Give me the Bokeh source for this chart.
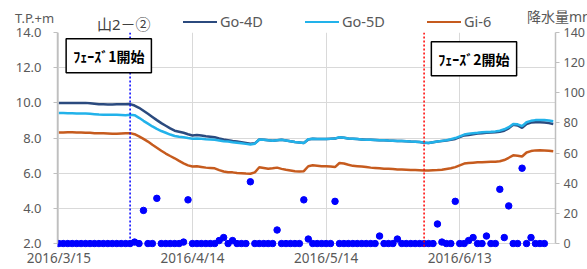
import datetime as dt
from bokeh.plotting import figure
from bokeh.layouts import column
from bokeh.models import (Range1d, LinearAxis, Label, Span, Div,
                          FixedTicker, PrintfTickFormatter)
from bokeh.embed import file_html
from bokeh.resources import INLINE

# ---------------- data ----------------
start_date = "2016/3/15"
phase1_date = "2016/3/31"
phase2_date = "2016/6/5"
x_tick_labels = ["2016/3/15", "2016/4/14", "2016/5/14", "2016/6/13"]
left_ticks = [2.0, 4.0, 6.0, 8.0, 10.0, 12.0, 14.0]
right_ticks = [0, 20, 40, 60, 80, 100, 120, 140]
series_names = ["Go-4D", "Go-5D", "Gi-6"]

go4d = [10.00, 10.00, 10.00, 10.00, 10.00, 10.00, 10.00, 9.98, 9.95, 9.92,
        9.92, 9.91, 9.91, 9.92, 9.92, 9.92, 9.93, 9.85, 9.72, 9.55,
        9.38, 9.20, 9.02, 8.85, 8.70, 8.55, 8.42, 8.36, 8.30, 8.22,
        8.15, 8.18, 8.15, 8.10, 8.08, 8.05, 7.98, 7.92, 7.88, 7.83,
        7.80, 7.76, 7.72, 7.68, 7.70, 7.92, 7.90, 7.87, 7.85, 7.88,
        7.90, 7.86, 7.82, 7.78, 7.75, 7.72, 7.92, 7.96, 7.95, 7.94,
        7.95, 7.96, 7.97, 8.04, 8.02, 7.98, 7.96, 7.94, 7.92, 7.90,
        7.90, 7.89, 7.88, 7.88, 7.86, 7.85, 7.84, 7.83, 7.82, 7.80,
        7.79, 7.77, 7.74, 7.72, 7.76, 7.80, 7.83, 7.86, 7.90, 7.95,
        8.05, 8.15, 8.18, 8.22, 8.26, 8.28, 8.30, 8.31, 8.33, 8.36,
        8.42, 8.55, 8.75, 8.72, 8.58, 8.80, 8.88, 8.90, 8.90, 8.88,
        8.85, 8.80]

go5d = [9.42, 9.42, 9.41, 9.41, 9.40, 9.40, 9.40, 9.38, 9.36, 9.34,
        9.33, 9.32, 9.32, 9.32, 9.31, 9.30, 9.33, 9.30, 9.15, 8.98,
        8.82, 8.66, 8.52, 8.40, 8.30, 8.20, 8.12, 8.08, 8.05, 8.00,
        7.96, 7.98, 7.96, 7.93, 7.92, 7.90, 7.86, 7.82, 7.80, 7.76,
        7.73, 7.70, 7.67, 7.64, 7.68, 7.92, 7.90, 7.87, 7.85, 7.88,
        7.90, 7.86, 7.82, 7.78, 7.75, 7.72, 7.93, 7.96, 7.95, 7.94,
        7.95, 7.96, 7.98, 8.05, 8.02, 7.98, 7.96, 7.94, 7.92, 7.91,
        7.90, 7.89, 7.88, 7.88, 7.86, 7.85, 7.84, 7.83, 7.82, 7.80,
        7.79, 7.77, 7.75, 7.72, 7.76, 7.80, 7.84, 7.88, 7.93, 8.00,
        8.10, 8.20, 8.24, 8.28, 8.30, 8.33, 8.35, 8.36, 8.38, 8.42,
        8.50, 8.62, 8.80, 8.78, 8.68, 8.90, 8.98, 9.02, 9.03, 9.02,
        9.00, 8.96]

gi6 = [8.32, 8.32, 8.33, 8.33, 8.32, 8.31, 8.30, 8.30, 8.28, 8.27,
       8.27, 8.26, 8.25, 8.25, 8.26, 8.27, 8.28, 8.22, 8.10, 7.95,
       7.80, 7.62, 7.45, 7.28, 7.12, 6.98, 6.85, 6.70, 6.56, 6.45,
       6.38, 6.40, 6.36, 6.32, 6.30, 6.28, 6.18, 6.10, 6.06, 6.05,
       6.02, 6.00, 5.98, 5.97, 6.05, 6.34, 6.30, 6.26, 6.28, 6.32,
       6.25, 6.20, 6.16, 6.12, 6.10, 6.12, 6.40, 6.45, 6.43, 6.40,
       6.40, 6.38, 6.35, 6.58, 6.55, 6.48, 6.42, 6.40, 6.38, 6.36,
       6.32, 6.30, 6.28, 6.26, 6.25, 6.24, 6.22, 6.21, 6.20, 6.19,
       6.18, 6.17, 6.16, 6.15, 6.17, 6.18, 6.20, 6.24, 6.28, 6.35,
       6.45, 6.55, 6.58, 6.60, 6.62, 6.62, 6.64, 6.65, 6.66, 6.68,
       6.75, 6.88, 7.02, 7.00, 6.95, 7.18, 7.26, 7.30, 7.31, 7.30,
       7.28, 7.25]

rain = [0, 0, 0, 0, 0, 0, 0, 0, 0, 0,
        0, 0, 0, 0, 0, 0, 0, 1, 0, 22,
        0, 0, 30, 0, 0, 0, 0, 0, 1, 29,
        0, 0, 0, 0, 0, 0, 2, 4, 0, 2,
        0, 0, 0, 41, 0, 0, 0, 0, 0, 9,
        0, 0, 0, 0, 0, 29, 3, 0, 0, 0,
        0, 0, 28, 0, 0, 0, 0, 0, 0, 0,
        0, 0, 5, 0, 0, 0, 3, 0, 0, 0,
        0, 0, 0, 0, 0, 13, 1, 0, 0, 28,
        0, 0, 2, 4, 0, 0, 5, 0, 0, 36,
        4, 25, 0, 0, 50, 0, 4, 0, 0, 0]

# ---------------- helpers ----------------
def pd_(s):
    return dt.datetime.strptime(s, "%Y/%m/%d")

t0 = pd_(start_date)
def day_of(s):
    return (pd_(s) - t0).days

days_lv = list(range(len(go4d)))
days_rain = list(range(len(rain)))
tick_days = [day_of(s) for s in x_tick_labels]

GREY = "#595959"
FONT = "Noto Sans"
CJK = "Noto Sans CJK JP"
COLORS = ["#2B4A7E", "#22B2EA", "#C65B1E"]
W = 587
HEAD_H = 36
OVERLAP = 11

# ---------------- header strip (unit label, title, legend) ----------------
def span(text, left, cy, size, color):
    top = cy - size * 0.5
    return (f'<span style="position:absolute;left:{left}px;top:{top:.1f}px;'
            f'font-size:{size}px;line-height:1;color:{color};'
            f'white-space:nowrap;">{text}</span>')

def key(left, cy, color):
    return (f'<span style="position:absolute;left:{left}px;top:{cy - 1.25:.1f}px;'
            f'width:34px;height:2.5px;background:{color};"></span>')

parts = [span("T.P.+m", 15, 18, 13, GREY),
         span("山2－②", 97, 24, 15, "#404040"),
         span("降水量mm", 527, 17, 14, GREY)]
for (name, c, kx) in zip(series_names, COLORS, [183, 305, 427]):
    parts.append(key(kx, 22, c))
    parts.append(span(name, kx + 37, 21.5, 14.5, GREY))

header_html = (f'<div style="position:relative;width:{W}px;height:{HEAD_H}px;'
               f"font-family:'Noto Sans','Noto Sans CJK JP',sans-serif;"
               f'overflow:hidden;">' + "".join(parts) + '</div>')
header = Div(text=header_html, width=W, height=HEAD_H, margin=(0, 0, 0, 0))

# ---------------- main plot ----------------
p = figure(width=W, height=269 - HEAD_H + OVERLAP, output_backend="svg",
           toolbar_location=None, margin=(-OVERLAP, 0, 0, 0),
           x_range=Range1d(-0.3, 111.5), y_range=Range1d(1.78, 14.0),
           min_border_left=57, min_border_right=30, min_border_top=7,
           min_border_bottom=19)
p.outline_line_color = None
p.background_fill_color = "white"
p.border_fill_color = None

p.extra_y_ranges = {"rain": Range1d(-2.6, 140)}

xa = p.xaxis[0]
xa.ticker = FixedTicker(ticks=tick_days)
xa.major_label_overrides = {d: l for d, l in zip(tick_days, x_tick_labels)}
xa.axis_line_color = None
xa.major_tick_line_color = None
xa.major_tick_out = 0
xa.major_tick_in = 0
xa.minor_tick_line_color = None
xa.major_label_standoff = 1
xa.major_label_text_font = FONT
xa.major_label_text_font_size = "13.5px"
xa.major_label_text_color = GREY

ya = p.yaxis[0]
ya.ticker = FixedTicker(ticks=left_ticks)
ya.formatter = PrintfTickFormatter(format="%.1f")
ya.bounds = (2.0, 14.0)
ya.axis_line_color = "#BFBFBF"
ya.axis_line_width = 1.5
ya.major_tick_line_color = "#BFBFBF"
ya.major_tick_out = 4
ya.major_tick_in = 0
ya.minor_tick_line_color = None
ya.major_label_standoff = 12
ya.major_label_text_font = FONT
ya.major_label_text_font_size = "13px"
ya.major_label_text_color = GREY

ra = LinearAxis(y_range_name="rain", ticker=FixedTicker(ticks=right_ticks))
ra.bounds = (0, 140)
ra.axis_line_color = "#BFBFBF"
ra.axis_line_width = 1.5
ra.major_tick_line_color = "#BFBFBF"
ra.major_tick_out = 4
ra.major_tick_in = 0
ra.minor_tick_line_color = None
ra.major_label_standoff = 4
ra.major_label_text_font = FONT
ra.major_label_text_font_size = "12.5px"
ra.major_label_text_color = GREY
p.add_layout(ra, "right")

p.xgrid.ticker = FixedTicker(ticks=tick_days)
p.xgrid.grid_line_color = "#D9D9D9"
p.ygrid.ticker = FixedTicker(ticks=left_ticks)
p.ygrid.grid_line_color = "#D9D9D9"

p.add_layout(Span(location=day_of(phase1_date), dimension="height",
                  line_color="#0000FF", line_dash="2 2", line_width=1.5))
p.add_layout(Span(location=day_of(phase2_date), dimension="height",
                  line_color="#FF0000", line_dash="2 2", line_width=1.5))

for ys, c, n in zip([go4d, go5d, gi6], COLORS, series_names):
    p.line(days_lv, ys, line_color=c, line_width=2.5, name=n)
p.scatter(days_rain, rain, y_range_name="rain", size=6.5,
          fill_color="#0000FF", line_color="#0000FF")

p.add_layout(Label(x=11.21, y=12.68, text="ﾌｪｰｽﾞ1開始",
                   text_font=CJK, text_font_style="bold",
                   text_font_size="14px", text_color="black",
                   text_baseline="middle", text_align="center",
                   border_line_color="black", border_line_width=1.5,
                   background_fill_color="white", padding=7))
p.add_layout(Label(x=93.2, y=12.51, text="ﾌｪｰｽﾞ2開始",
                   text_font=CJK, text_font_style="bold",
                   text_font_size="14px", text_color="black",
                   text_baseline="middle", text_align="center",
                   border_line_color="black", border_line_width=1.5,
                   background_fill_color="white", padding=7))

layout = column(header, p, spacing=0)
open("out.html", "w").write(file_html(layout, INLINE))
